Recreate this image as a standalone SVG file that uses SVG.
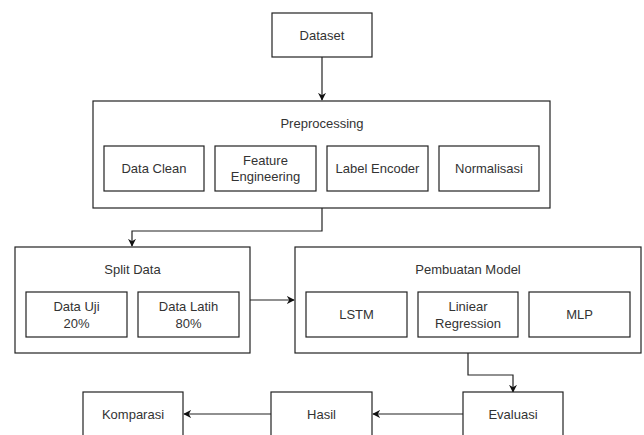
<svg xmlns="http://www.w3.org/2000/svg" width="644" height="435" viewBox="0 0 644 435">
<style>
rect{fill:#fff;stroke:#222;stroke-width:1.2}
text{font-family:"Liberation Sans",Arial,sans-serif;font-size:13px;fill:#333;text-anchor:middle;dominant-baseline:central}
.c{fill:none;stroke:#222;stroke-width:1.2}
</style>
<defs>
<marker id="a" viewBox="0 0 10 10" refX="9" refY="5" markerWidth="8" markerHeight="8" markerUnits="userSpaceOnUse" orient="auto">
<path d="M0,0 L10,5 L0,10 L3,5 Z" fill="#111"/>
</marker>
</defs>
<rect x="0" y="0" width="644" height="435" style="fill:#fff;stroke:none"/>
<g id="connectors">
<path class="c" d="M322,57 V100" marker-end="url(#a)"/>
<path class="c" d="M322,208 V231 H132 V246" marker-end="url(#a)"/>
<path class="c" d="M250,300 H294" marker-end="url(#a)"/>
<path class="c" d="M468,353 V375 H513 V392" marker-end="url(#a)"/>
<path class="c" d="M463,414 H373" marker-end="url(#a)"/>
<path class="c" d="M271,414 H184" marker-end="url(#a)"/>
</g>
<g id="dataset"><rect x="272" y="13" width="100" height="44"/><text x="322" y="35">Dataset</text></g>
<g id="preprocessing"><rect x="93" y="101" width="457" height="107"/><text x="322" y="123">Preprocessing</text></g>
<g id="data-clean"><rect x="104" y="146" width="100" height="45"/><text x="154" y="168.5">Data Clean</text></g>
<g id="feature-engineering"><rect x="215" y="146" width="101" height="45"/><text x="265.5" y="160.5">Feature</text><text x="265.5" y="176.5">Engineering</text></g>
<g id="label-encoder"><rect x="327" y="146" width="101" height="45"/><text x="377.5" y="168.5">Label Encoder</text></g>
<g id="normalisasi"><rect x="439" y="146" width="100" height="45"/><text x="489" y="168.5">Normalisasi</text></g>
<g id="split-data"><rect x="15" y="247" width="235" height="106"/><text x="132.5" y="269">Split Data</text></g>
<g id="data-uji"><rect x="26" y="292" width="101" height="45"/><text x="76.5" y="306">Data Uji</text><text x="76.5" y="323">20%</text></g>
<g id="data-latih"><rect x="138" y="292" width="101" height="45"/><text x="188.5" y="306">Data Latih</text><text x="188.5" y="323">80%</text></g>
<g id="pembuatan-model"><rect x="295" y="247" width="346" height="106"/><text x="468" y="269">Pembuatan Model</text></g>
<g id="lstm"><rect x="306" y="292" width="101" height="45"/><text x="356.5" y="314.5">LSTM</text></g>
<g id="linear-regression"><rect x="418" y="292" width="100" height="45"/><text x="468" y="306">Liniear</text><text x="468" y="323">Regression</text></g>
<g id="mlp"><rect x="529" y="292" width="101" height="45"/><text x="579.5" y="314.5">MLP</text></g>
<g id="komparasi"><rect x="83" y="392" width="100" height="45"/><text x="133" y="414">Komparasi</text></g>
<g id="hasil"><rect x="271" y="392" width="101" height="45"/><text x="321.5" y="414">Hasil</text></g>
<g id="evaluasi"><rect x="463" y="392" width="100" height="45"/><text x="513" y="414">Evaluasi</text></g>
</svg>
